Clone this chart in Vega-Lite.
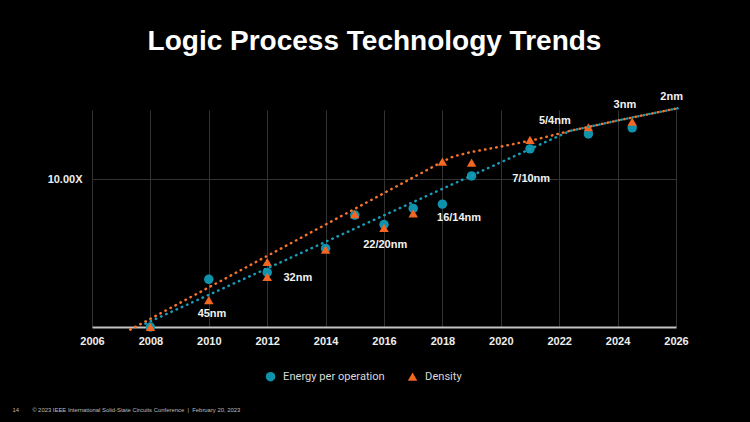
{
  "$schema": "https://vega.github.io/schema/vega-lite/v6.json",
  "width": 584,
  "height": 217,
  "autosize": {"type": "none"},
  "padding": {"left": 92, "top": 110, "right": 74, "bottom": 95},
  "background": "#000000",
  "title": {
    "text": "Logic Process Technology Trends",
    "font": "Liberation Sans",
    "fontSize": 28,
    "fontWeight": "bold",
    "color": "#ffffff",
    "anchor": "middle",
    "frame": "group",
    "baseline": "alphabetic",
    "offset": 13,
    "dx": -9.5
  },
  "config": {
    "view": {"stroke": null},
    "font": "Liberation Sans"
  },
  "datasets": {
    "points": [
      {"year": 2008, "value": 1.0, "series": "Energy per operation"},
      {"year": 2010, "value": 2.10, "series": "Energy per operation"},
      {"year": 2012, "value": 2.34, "series": "Energy per operation"},
      {"year": 2014, "value": 3.40, "series": "Energy per operation"},
      {"year": 2015, "value": 5.71, "series": "Energy per operation"},
      {"year": 2016, "value": 4.93, "series": "Energy per operation"},
      {"year": 2017, "value": 6.33, "series": "Energy per operation"},
      {"year": 2018, "value": 6.77, "series": "Energy per operation"},
      {"year": 2019, "value": 10.5, "series": "Energy per operation"},
      {"year": 2021, "value": 16.0, "series": "Energy per operation"},
      {"year": 2023, "value": 20.2, "series": "Energy per operation"},
      {"year": 2024.5, "value": 22.2, "series": "Energy per operation"},
      {"year": 2008, "value": 1.0, "series": "Density"},
      {"year": 2010, "value": 1.52, "series": "Density"},
      {"year": 2012, "value": 2.75, "series": "Density"},
      {"year": 2012, "value": 2.18, "series": "Density"},
      {"year": 2014, "value": 3.34, "series": "Density"},
      {"year": 2015, "value": 5.80, "series": "Density"},
      {"year": 2016, "value": 4.68, "series": "Density"},
      {"year": 2017, "value": 5.86, "series": "Density"},
      {"year": 2018, "value": 13.1, "series": "Density"},
      {"year": 2019, "value": 12.9, "series": "Density"},
      {"year": 2021, "value": 18.4, "series": "Density"},
      {"year": 2023, "value": 22.4, "series": "Density"},
      {"year": 2024.5, "value": 24.4, "series": "Density"}
    ],
    "trends": [
      {"year": 2007.31, "value": 0.96, "series": "Density"},
      {"year": 2018.0, "value": 13.1, "series": "Density"},
      {"year": 2018.37, "value": 14.2, "series": "Density"},
      {"year": 2018.96, "value": 15.2, "series": "Density"},
      {"year": 2020.09, "value": 16.7, "series": "Density"},
      {"year": 2021.24, "value": 18.6, "series": "Density"},
      {"year": 2022.38, "value": 21.2, "series": "Density"},
      {"year": 2022.95, "value": 22.4, "series": "Density"},
      {"year": 2024.09, "value": 25.1, "series": "Density"},
      {"year": 2026.06, "value": 30.1, "series": "Density"},
      {"year": 2007.83, "value": 1.054, "series": "Energy per operation"},
      {"year": 2022.38, "value": 21.2, "series": "Energy per operation"},
      {"year": 2022.95, "value": 22.4, "series": "Energy per operation"},
      {"year": 2024.09, "value": 25.1, "series": "Energy per operation"},
      {"year": 2026.06, "value": 30.1, "series": "Energy per operation"}
    ],
    "labels": [
      {"label": "45nm", "year": 2010.11, "value": 1.22},
      {"label": "32nm", "year": 2013.05, "value": 2.13},
      {"label": "22/20nm", "year": 2016.04, "value": 3.61},
      {"label": "16/14nm", "year": 2018.57, "value": 5.47},
      {"label": "7/10nm", "year": 2021.04, "value": 10.0},
      {"label": "5/4nm", "year": 2021.85, "value": 24.7},
      {"label": "3nm", "year": 2024.25, "value": 31.7},
      {"label": "2nm", "year": 2025.85, "value": 35.7}
    ]
  },
  "encoding": {
    "x": {
      "field": "year",
      "type": "quantitative",
      "scale": {"domain": [2006, 2026], "nice": false, "zero": false},
      "axis": {
        "values": [2006, 2008, 2010, 2012, 2014, 2016, 2018, 2020, 2022, 2024, 2026],
        "format": "d",
        "grid": true,
        "gridColor": "#333333",
        "gridWidth": 1,
        "domainColor": "#c4c4c4",
        "domainWidth": 2,
        "ticks": false,
        "labelFlush": false,
        "labelOverlap": false,
        "labelBound": false,
        "labelColor": "#eeeeee",
        "labelFont": "Liberation Sans",
        "labelFontSize": 11,
        "labelFontWeight": "bold",
        "labelPadding": 8,
        "title": "14\u00a0\u00a0\u00a0\u00a0\u00a0\u00a0\u00a0\u00a0\u00a9 2023 IEEE International Solid-State Circuits Conference\u00a0\u00a0|\u00a0\u00a0February 20, 2023",
        "titleFont": "Liberation Sans",
        "titleFontSize": 5.9,
        "titleFontWeight": "normal",
        "titleColor": "#bdbdbd",
        "titleAnchor": "start",
        "titleAlign": "left",
        "titleBaseline": "middle",
        "titleX": -80,
        "titleY": 82
      }
    },
    "y": {
      "field": "value",
      "type": "quantitative",
      "scale": {"type": "log", "domain": [1, 29.3], "nice": false},
      "axis": {
        "values": [10],
        "labelExpr": "'10.00X'",
        "grid": true,
        "gridColor": "#333333",
        "gridWidth": 1,
        "domain": false,
        "ticks": false,
        "labelColor": "#eeeeee",
        "labelFont": "Liberation Sans",
        "labelFontSize": 11,
        "labelFontWeight": "bold",
        "labelPadding": 10,
        "title": null
      }
    }
  },
  "layer": [
    {
      "data": {"name": "points"},
      "mark": {"type": "point", "filled": true, "opacity": 1, "strokeWidth": 0},
      "encoding": {
        "color": {
          "field": "series",
          "type": "nominal",
          "scale": {"domain": ["Energy per operation", "Density"], "range": ["#0f93ad", "#f26522"]},
          "legend": {
            "title": null,
            "orient": "none",
            "legendX": 173,
            "legendY": 261,
            "direction": "horizontal",
            "padding": 0,
            "labelColor": "#d8d8d8",
            "labelFont": "Roboto",
            "labelFontSize": 11.1,
            "labelOffset": 7,
            "columnPadding": 22,
            "symbolSize": 90,
            "symbolStrokeWidth": 0
          }
        },
        "shape": {
          "field": "series",
          "type": "nominal",
          "scale": {"domain": ["Energy per operation", "Density"], "range": ["circle", "triangle-up"]},
          "legend": {
            "title": null,
            "orient": "none",
            "legendX": 173,
            "legendY": 261,
            "direction": "horizontal",
            "padding": 0,
            "labelColor": "#d8d8d8",
            "labelFont": "Roboto",
            "labelFontSize": 11.1,
            "labelOffset": 7,
            "columnPadding": 22,
            "symbolSize": 90,
            "symbolStrokeWidth": 0
          }
        },
        "size": {"value": 90}
      }
    },
    {
      "data": {"name": "trends"},
      "transform": [{"filter": "datum.series === 'Energy per operation'"}],
      "mark": {"type": "line", "color": "#1a9cb8", "strokeWidth": 2.5, "strokeDash": [0.5, 5.2], "strokeCap": "round"},
      "encoding": {}
    },
    {
      "data": {"name": "trends"},
      "transform": [{"filter": "datum.series === 'Density'"}],
      "mark": {"type": "line", "color": "#f3732c", "strokeWidth": 2.5, "strokeDash": [0.5, 5.2], "strokeCap": "round"},
      "encoding": {}
    },
    {
      "data": {"name": "labels"},
      "mark": {"type": "text", "font": "Liberation Sans", "fontSize": 11, "fontWeight": "bold", "color": "#f2f2f2", "align": "center", "baseline": "middle"},
      "encoding": {"text": {"field": "label", "type": "nominal"}}
    }
  ]
}
